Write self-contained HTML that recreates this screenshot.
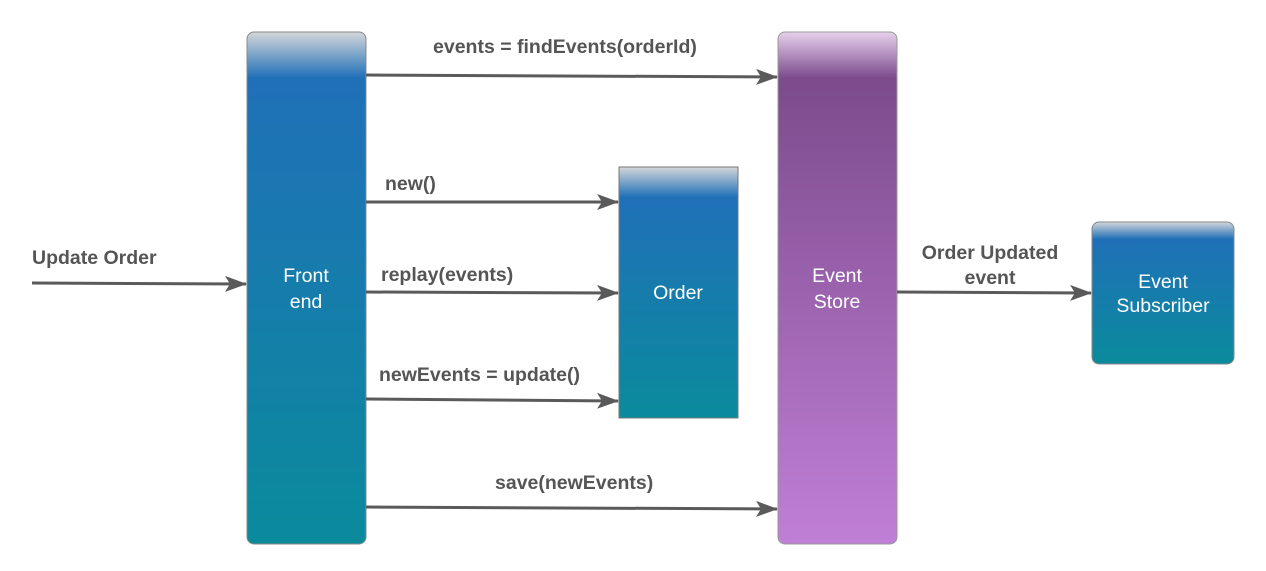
<!DOCTYPE html>
<html><head><meta charset="utf-8"><style>
html,body{margin:0;padding:0;background:#fff;width:1266px;height:571px;overflow:hidden}
text{font-family:"Liberation Sans",sans-serif}
.l{font-size:19.5px;font-weight:bold;fill:#555}
.w{font-size:19.5px;fill:#fff}
</style></head><body>
<svg width="1266" height="571" viewBox="0 0 1266 571" xmlns="http://www.w3.org/2000/svg">
<defs>
<linearGradient id="b" x1="0" y1="0" x2="0" y2="1">
<stop offset="0" stop-color="#d4d6d9"/><stop offset="0.09" stop-color="#2070b8"/><stop offset="1" stop-color="#0a8b9c"/>
</linearGradient>
<linearGradient id="b2" x1="0" y1="0" x2="0" y2="1">
<stop offset="0" stop-color="#d4d6d9"/><stop offset="0.12" stop-color="#2070b8"/><stop offset="1" stop-color="#0a8b9c"/>
</linearGradient>
<linearGradient id="p" x1="0" y1="0" x2="0" y2="1">
<stop offset="0" stop-color="#e6d0ec"/><stop offset="0.09" stop-color="#7c4b8c"/><stop offset="1" stop-color="#c07fd6"/>
</linearGradient>
<marker id="a" markerWidth="22" markerHeight="16" refX="21" refY="8" orient="auto" markerUnits="userSpaceOnUse">
<path d="M0,0 L22,8 L0,16 L5,8 Z" fill="#5a5a5a"/>
</marker>
</defs>
<rect x="247" y="32" width="119" height="512" rx="7" fill="url(#b)" stroke="#888" stroke-width="1"/>
<rect x="778" y="32" width="119" height="512" rx="7" fill="url(#p)" stroke="#999" stroke-width="1"/>
<rect x="619" y="167" width="119" height="251" fill="url(#b2)" stroke="#777" stroke-width="1"/>
<rect x="1092" y="222" width="142" height="142" rx="7" fill="url(#b2)" stroke="#888" stroke-width="1"/>
<g stroke="#5a5a5a" stroke-width="3" fill="none" marker-end="url(#a)">
<line x1="366" y1="75" x2="777" y2="77"/>
<line x1="366" y1="202" x2="618" y2="202"/>
<line x1="366" y1="292" x2="618" y2="293"/>
<line x1="366" y1="399" x2="618" y2="401"/>
<line x1="366" y1="507" x2="777" y2="509"/>
<line x1="32" y1="283" x2="246" y2="284"/>
<line x1="897" y1="292" x2="1091" y2="293"/>
</g>
<text class="l" x="433" y="53">events = findEvents(orderId)</text>
<text class="l" x="385" y="190">new()</text>
<text class="l" x="381" y="281">replay(events)</text>
<text class="l" x="379" y="381">newEvents = update()</text>
<text class="l" x="495" y="489">save(newEvents)</text>
<text class="l" x="32" y="264">Update Order</text>
<text class="l" x="990" y="259" text-anchor="middle">Order Updated</text>
<text class="l" x="990" y="284" text-anchor="middle">event</text>
<text class="w" x="306" y="282" text-anchor="middle">Front</text>
<text class="w" x="306" y="308" text-anchor="middle">end</text>
<text class="w" x="837" y="282" text-anchor="middle">Event</text>
<text class="w" x="837" y="308" text-anchor="middle">Store</text>
<text class="w" x="678" y="299" text-anchor="middle">Order</text>
<text class="w" x="1163" y="288" text-anchor="middle">Event</text>
<text class="w" x="1163" y="312" text-anchor="middle">Subscriber</text>
</svg>
</body></html>
